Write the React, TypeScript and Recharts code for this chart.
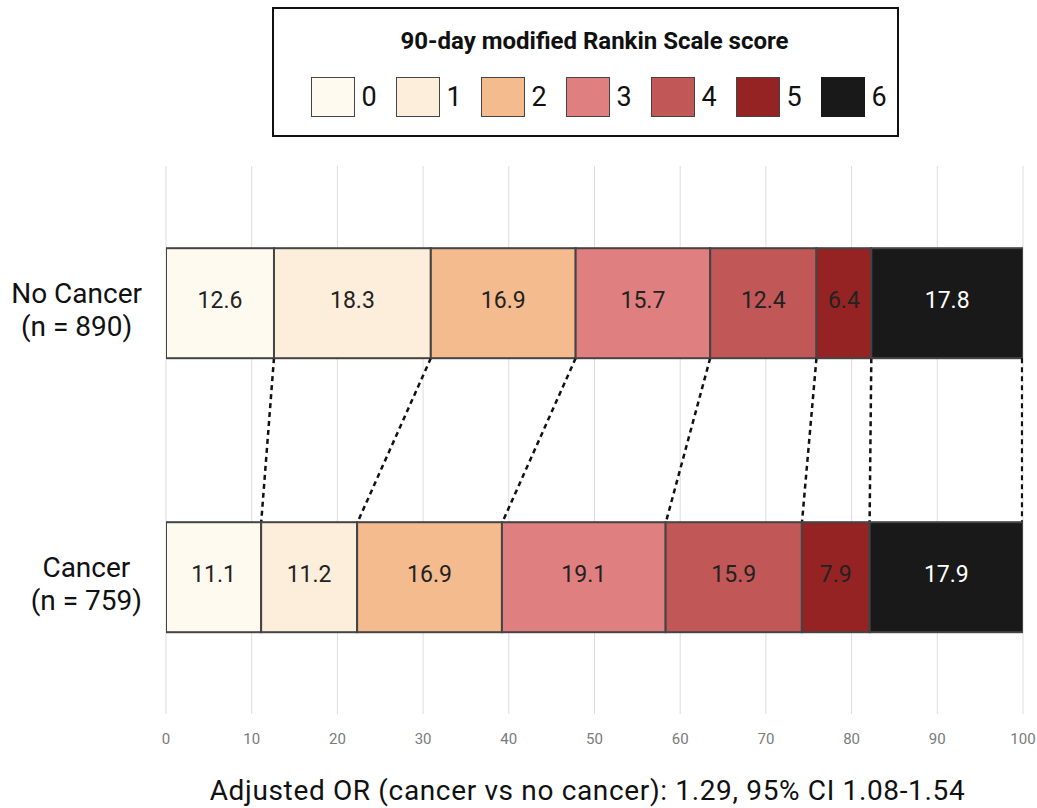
import { BarChart, Bar, XAxis, YAxis, CartesianGrid, LabelList } from 'recharts'

const GROUPS = ['No Cancer', 'Cancer']
const GROUP_N = [890, 759]
const SCORES = ['0', '1', '2', '3', '4', '5', '6']
const NO_CANCER = [12.6, 18.3, 16.9, 15.7, 12.4, 6.4, 17.8]
const CANCER = [11.1, 11.2, 16.9, 19.1, 15.9, 7.9, 17.9]
const X_TICKS = [0, 10, 20, 30, 40, 50, 60, 70, 80, 90, 100]

const COLORS = ['#fffaef', '#fdeddb', '#f3bb8e', '#e07f80', '#c25757', '#952323', '#191919']
const LABEL_COLORS = ['#222', '#222', '#222', '#222', '#222', '#222', '#fff']
const FONT = 'Roboto, sans-serif'
const GAP_PCT = 0.3

const data = GROUPS.map((g, gi) => {
  const vals = gi === 0 ? NO_CANCER : CANCER
  const row: Record<string, string | number> = { group: g }
  SCORES.forEach((s, i) => {
    row['s' + s] = vals[i]
  })
  return row
})

const cumulative = (vals: number[]) => {
  let sum = 0
  return vals.map((v) => {
    sum += v
    return Math.min(sum, 100)
  })
}
const topEnds = cumulative(NO_CANCER)
const bottomEnds = cumulative(CANCER)

// segment rect + dotted connector from the top row's segment end to the bottom row's
function makeShape(i: number) {
  return (props: any) => {
    const { x, y, width, height, fill, payload } = props
    const rect = <rect x={x} y={y} width={width} height={height} fill={fill} stroke="#444" strokeWidth={2} />
    if (payload.group !== GROUPS[0] || !width) return rect
    // linear x scale taken from the bar recharts laid out
    const k = width / NO_CANCER[i]
    const start = i === 0 ? 0 : topEnds[i - 1]
    const origin = x - start * k
    const x1 = origin + topEnds[i] * k
    const x2 = origin + bottomEnds[i] * k
    // next category band sits one band lower
    const band = height / (1 - 2 * GAP_PCT)
    const y1 = y + height
    const y2 = y + band
    return (
      <g>
        {rect}
        <line x1={x1} y1={y1} x2={x2} y2={y2} stroke="#111" strokeWidth={2.5} strokeDasharray="5 4" />
      </g>
    )
  }
}

let measureCtx: CanvasRenderingContext2D | null = null
function textWidth(t: string, font: string) {
  if (!measureCtx) measureCtx = document.createElement('canvas').getContext('2d')
  if (!measureCtx) return t.length * 15
  measureCtx.font = font
  return measureCtx.measureText(t).width
}

function GroupTick(props: any) {
  const { x, y, payload } = props
  const idx = GROUPS.indexOf(payload.value)
  const lines = [payload.value, `(n = ${GROUP_N[idx]})`]
  const w = Math.max(...lines.map((l) => textWidth(l, `28px ${FONT}`)))
  const cx = x - 16 - w / 2
  return (
    <text x={cx} y={y} textAnchor="middle" fontSize={28} fontFamily={FONT} fill="#111">
      <tspan x={cx} dy={0}>{lines[0]}</tspan>
      <tspan x={cx} dy={33}>{lines[1]}</tspan>
    </text>
  )
}

function ScoreLegend() {
  return (
    <div
      style={{
        position: 'absolute',
        left: 272,
        top: 7,
        width: 627,
        height: 130,
        border: '2px solid #111',
        boxSizing: 'border-box',
        fontFamily: FONT,
        background: '#fff',
      }}
    >
      <div
        style={{
          textAlign: 'center',
          fontWeight: 700,
          fontSize: 24,
          marginTop: 18,
          paddingLeft: 18,
          color: '#111',
          lineHeight: '28px',
        }}
      >
        90-day modified Rankin Scale score
      </div>
      <div style={{ display: 'flex', justifyContent: 'center', gap: 19, marginTop: 22, paddingLeft: 26 }}>
        {SCORES.map((s, i) => (
          <div key={s} style={{ display: 'flex', alignItems: 'center' }}>
            <div
              style={{
                width: 44,
                height: 40,
                background: COLORS[i],
                border: i === 6 ? '1.5px solid #191919' : '1.5px solid #444',
                boxSizing: 'border-box',
              }}
            />
            <span style={{ fontSize: 27, marginLeft: 7, color: '#111', width: 15 }}>{s}</span>
          </div>
        ))}
      </div>
    </div>
  )
}

export default function App() {
  return (
    <div style={{ position: 'absolute', left: 0, top: 0, width: 1037, height: 808, background: '#fff' }}>
      <BarChart
        width={1037}
        height={808}
        data={data}
        layout="vertical"
        barCategoryGap={`${GAP_PCT * 100}%`}
        margin={{ top: 166, right: 14, left: 0, bottom: 64 }}
      >
        <CartesianGrid horizontal={false} stroke="#dcdcdc" />
        <XAxis
          type="number"
          domain={[0, 100]}
          ticks={X_TICKS}
          allowDataOverflow
          axisLine={false}
          tickLine={false}
          tickMargin={13}
          tick={{ fontSize: 15, fill: '#7a7a7a', fontFamily: FONT }}
        />
        <YAxis
          type="category"
          dataKey="group"
          width={166}
          axisLine={false}
          tickLine={false}
          tick={<GroupTick />}
        />
        {SCORES.map((s, i) => (
          <Bar
            key={s}
            dataKey={'s' + s}
            stackId="a"
            fill={COLORS[i]}
            shape={makeShape(i)}
            isAnimationActive={false}
          >
            <LabelList
              dataKey={'s' + s}
              position="center"
              fill={LABEL_COLORS[i]}
              fontSize={23}
              fontFamily={FONT}
              dy={-3}
            />
          </Bar>
        ))}
      </BarChart>
      <ScoreLegend />
      <div
        style={{
          position: 'absolute',
          left: 0,
          width: 1175,
          top: 774,
          textAlign: 'center',
          fontSize: 28,
          letterSpacing: 0.65,
          fontFamily: FONT,
          color: '#111',
        }}
      >
        Adjusted OR (cancer vs no cancer): 1.29, 95% CI 1.08-1.54
      </div>
    </div>
  )
}
